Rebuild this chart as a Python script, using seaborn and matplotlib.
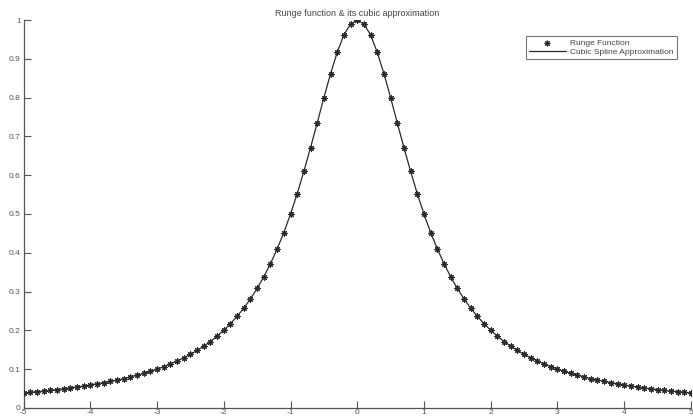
import matplotlib
matplotlib.use("Agg")
import matplotlib.pyplot as plt
import seaborn as sns
import pandas as pd

x_vals = [-5.0, -4.9, -4.8, -4.7, -4.6, -4.5, -4.4, -4.3, -4.2, -4.1,
          -4.0, -3.9, -3.8, -3.7, -3.6, -3.5, -3.4, -3.3, -3.2, -3.1,
          -3.0, -2.9, -2.8, -2.7, -2.6, -2.5, -2.4, -2.3, -2.2, -2.1,
          -2.0, -1.9, -1.8, -1.7, -1.6, -1.5, -1.4, -1.3, -1.2, -1.1,
          -1.0, -0.9, -0.8, -0.7, -0.6, -0.5, -0.4, -0.3, -0.2, -0.1,
          0.0, 0.1, 0.2, 0.3, 0.4, 0.5, 0.6, 0.7, 0.8, 0.9,
          1.0, 1.1, 1.2, 1.3, 1.4, 1.5, 1.6, 1.7, 1.8, 1.9,
          2.0, 2.1, 2.2, 2.3, 2.4, 2.5, 2.6, 2.7, 2.8, 2.9,
          3.0, 3.1, 3.2, 3.3, 3.4, 3.5, 3.6, 3.7, 3.8, 3.9,
          4.0, 4.1, 4.2, 4.3, 4.4, 4.5, 4.6, 4.7, 4.8, 4.9, 5.0]

runge_vals = [0.038, 0.040, 0.042, 0.043, 0.045, 0.047, 0.049, 0.051, 0.054, 0.056,
              0.059, 0.062, 0.065, 0.068, 0.072, 0.075, 0.080, 0.084, 0.089, 0.094,
              0.100, 0.106, 0.113, 0.121, 0.129, 0.138, 0.148, 0.159, 0.171, 0.185,
              0.200, 0.217, 0.236, 0.257, 0.281, 0.308, 0.338, 0.372, 0.410, 0.452,
              0.500, 0.552, 0.610, 0.671, 0.735, 0.800, 0.862, 0.917, 0.962, 0.990,
              1.000, 0.990, 0.962, 0.917, 0.862, 0.800, 0.735, 0.671, 0.610, 0.552,
              0.500, 0.452, 0.410, 0.372, 0.338, 0.308, 0.281, 0.257, 0.236, 0.217,
              0.200, 0.185, 0.171, 0.159, 0.148, 0.138, 0.129, 0.121, 0.113, 0.106,
              0.100, 0.094, 0.089, 0.084, 0.080, 0.075, 0.072, 0.068, 0.065, 0.062,
              0.059, 0.056, 0.054, 0.051, 0.049, 0.047, 0.045, 0.043, 0.042, 0.040, 0.038]

x_ticks = [-5, -4, -3, -2, -1, 0, 1, 2, 3, 4, 5]
y_ticks = [0, 0.1, 0.2, 0.3, 0.4, 0.5, 0.6, 0.7, 0.8, 0.9, 1]
y_tick_labels = ["0", "0.1", "0.2", "0.3", "0.4", "0.5", "0.6", "0.7", "0.8", "0.9", "1"]

title = "Runge function & its cubic approximation"
labels = ["Runge Function", "Cubic Spline Approximation"]

df = pd.DataFrame({"x": x_vals, "y": runge_vals})

sns.set_style("white")
plt.rcParams["font.family"] = ["Liberation Sans", "DejaVu Sans"]

fig = plt.figure(figsize=(6.93, 4.2), dpi=100)
ax = fig.add_axes([0.034, 0.029, 0.963, 0.923])

sns.scatterplot(data=df, x="x", y="y", ax=ax, marker=(8, 2, 0), s=15,
                color="#2a2a2a", linewidth=0.8, edgecolor="#2a2a2a",
                label=labels[0], zorder=3)
sns.lineplot(data=df, x="x", y="y", ax=ax, color="#2a2a2a", linewidth=0.9,
             label=labels[1], zorder=2)

ax.set_xlim(-5, 5)
ax.set_ylim(0, 1)
ax.set_xticks(x_ticks)
ax.set_yticks(y_ticks)
ax.set_xticklabels([str(t) for t in x_ticks])
ax.set_yticklabels(y_tick_labels)
ax.set_xlabel("")
ax.set_ylabel("")
ax.tick_params(direction="in", length=5, width=0.8, colors="#555555",
               labelsize=6, pad=2, bottom=True, left=True)
ax.tick_params(axis="x", pad=1)
for s in ["top", "right"]:
    ax.spines[s].set_visible(False)
for s in ["left", "bottom"]:
    ax.spines[s].set_color("#555555")
    ax.spines[s].set_linewidth(0.9)

ax.set_title(title, fontsize=6.5, color="#444444", pad=3, y=1.0)

leg = ax.legend(loc="upper right", bbox_to_anchor=(0.985, 0.97), fontsize=6,
                frameon=True, fancybox=False, edgecolor="#555555",
                borderpad=0.35, handlelength=4.5, labelspacing=0.15,
                handletextpad=0.5, markerscale=0.9)
leg.get_frame().set_linewidth(0.8)
for t in leg.get_texts():
    t.set_color("#444444")

fig.savefig("out.png", dpi=100)
